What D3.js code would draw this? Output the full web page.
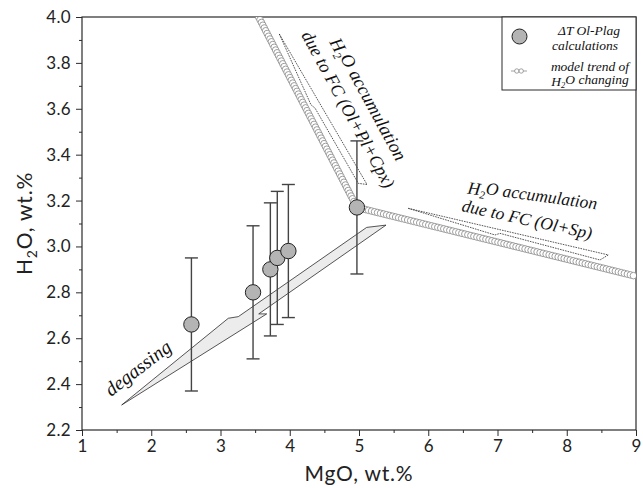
<!DOCTYPE html>
<html>
<head>
<meta charset="utf-8">
<script src="https://cdn.jsdelivr.net/npm/d3@7/dist/d3.min.js"></script>
<style>
  html, body { margin: 0; padding: 0; background: #fff; }
  svg { display: block; }
  .tick text { font-family: Lato, "Open Sans", sans-serif; }
</style>
</head>
<body>
<svg id="chart" width="643" height="488"></svg>
<script>
// ΔT Ol-Plag calculations: MgO vs H2O with uncertainty ranges
const mgo     = [2.58, 3.47, 3.72, 3.82, 3.98, 4.97];
const h2o     = [2.66, 2.80, 2.90, 2.95, 2.98, 3.17];
const h2oLow  = [2.37, 2.51, 2.61, 2.66, 2.69, 2.88];
const h2oHigh = [2.95, 3.09, 3.19, 3.24, 3.27, 3.46];

// Model trend of H2O changing (vertices of the trend)
const trendMgO = [3.55, 4.97, 9.0];
const trendH2O = [4.00, 3.17, 2.87];

// Outlined process arrows, as [MgO, H2O] vertices
const degassingShape = [[1.573, 2.309], [3.113, 2.687], [3.257, 2.694], [5.111, 3.083],
                        [5.390, 3.093], [3.552, 2.706], [3.667, 2.706]];
const fcPlagShape = [[3.849, 3.926], [4.307, 3.617], [4.365, 3.603], [4.990, 3.275], [5.116, 3.270]];
const fcSpShape = [[5.712, 3.166], [8.600, 2.963], [8.480, 2.941], [7.036, 3.057], [6.964, 3.050]];

// Axis ticks
const xTicks = [1, 2, 3, 4, 5, 6, 7, 8, 9];
const xMinor = [1.5, 2.5, 3.5, 4.5, 5.5, 6.5, 7.5, 8.5];
const yTicks = [2.2, 2.4, 2.6, 2.8, 3.0, 3.2, 3.4, 3.6, 3.8, 4.0];
const yMinor = [2.3, 2.5, 2.7, 2.9, 3.1, 3.3, 3.5, 3.7, 3.9];

const svg = d3.select("#chart");
const pL = 82, pR = 636, pT = 17, pB = 430;
const x = d3.scaleLinear().domain([1, 9]).range([pL, pR]);
const y = d3.scaleLinear().domain([2.2, 4.0]).range([pB, pT]);

const ink = "#2b2b2b";
const serif = "'Liberation Serif', 'Times New Roman', serif";

svg.append("defs").append("clipPath").attr("id", "plot")
  .append("rect").attr("x", pL).attr("y", pT)
  .attr("width", pR - pL).attr("height", pB - pT);

// Axes
const xAxis = svg.append("g").attr("transform", `translate(0,${pB})`)
  .call(d3.axisBottom(x).tickValues(xTicks).tickSize(6).tickPadding(4).tickFormat(d3.format("d")));
svg.append("g").attr("transform", `translate(0,${pB})`)
  .call(d3.axisBottom(x).tickValues(xMinor).tickSize(3).tickFormat(""));
const yAxis = svg.append("g").attr("transform", `translate(${pL},0)`)
  .call(d3.axisLeft(y).tickValues(yTicks).tickSize(6).tickPadding(5).tickFormat(d3.format(".1f")));
svg.append("g").attr("transform", `translate(${pL},0)`)
  .call(d3.axisLeft(y).tickValues(yMinor).tickSize(3).tickFormat(""));

svg.selectAll(".domain").remove();
svg.selectAll(".tick line").attr("stroke", ink).attr("stroke-width", 1);
xAxis.selectAll(".tick text").attr("font-size", 17).attr("fill", "#222").attr("letter-spacing", 0.3);
yAxis.selectAll(".tick text").attr("font-size", 17).attr("fill", "#222").attr("letter-spacing", 0.3);

// Frame
svg.append("rect").attr("x", pL).attr("y", pT)
  .attr("width", pR - pL).attr("height", pB - pT)
  .attr("fill", "none").attr("stroke", ink).attr("stroke-width", 1.2);

// Axis titles
svg.append("text").attr("x", (pL + pR) / 2).attr("y", 481)
  .attr("text-anchor", "middle").attr("font-family", "Lato, sans-serif")
  .attr("font-size", 21).attr("letter-spacing", 0.8).attr("fill", "#222")
  .text("MgO, wt.%");
const yt = svg.append("text")
  .attr("transform", `translate(32,${(pT + pB) / 2}) rotate(-90)`)
  .attr("text-anchor", "middle").attr("font-family", "Lato, sans-serif")
  .attr("font-size", 21).attr("letter-spacing", 0.8).attr("fill", "#222");
yt.append("tspan").text("H");
yt.append("tspan").attr("font-size", 14).attr("dy", 5).text("2");
yt.append("tspan").attr("dy", -5).text("O, wt.%");

const plot = svg.append("g").attr("clip-path", "url(#plot)");
const shapeLine = d3.line().x(d => x(d[0])).y(d => y(d[1]));

// Degassing arrow
plot.append("path").attr("d", shapeLine(degassingShape) + "Z")
  .attr("fill", "#ececec").attr("stroke", ink).attr("stroke-width", 0.8)
  .attr("stroke-linejoin", "miter");

// Fractional crystallization arrows (dotted outlines)
[fcPlagShape, fcSpShape].forEach(s => {
  plot.append("path").attr("d", shapeLine(s) + "Z")
    .attr("fill", "none").attr("stroke", ink).attr("stroke-width", 0.8)
    .attr("stroke-dasharray", "1.6,1");
});

// Model trend drawn as a chain of small open circles
const trendPts = trendMgO.map((m, i) => [m, trendH2O[i]]);
const guide = plot.append("path").attr("d", shapeLine(trendPts))
  .attr("fill", "none").attr("stroke", "none");
const node = guide.node();
const total = node.getTotalLength();
const samples = d3.range(0, total, 3.1).map(l => node.getPointAtLength(l));
plot.append("g").selectAll("circle").data(samples).join("circle")
  .attr("cx", p => p.x).attr("cy", p => p.y).attr("r", 3.3)
  .attr("fill", "#fff").attr("stroke", "#858585").attr("stroke-width", 0.8);

// Error bars
const bars = svg.append("g").attr("stroke", "#444").attr("stroke-width", 1.4);
mgo.forEach((m, i) => {
  bars.append("line").attr("x1", x(m)).attr("x2", x(m))
    .attr("y1", y(h2oLow[i])).attr("y2", y(h2oHigh[i]));
  [h2oLow[i], h2oHigh[i]].forEach(v => {
    bars.append("line").attr("x1", x(m) - 6.5).attr("x2", x(m) + 6.5)
      .attr("y1", y(v)).attr("y2", y(v));
  });
});

// Data points
svg.append("g").selectAll("circle").data(mgo).join("circle")
  .attr("cx", d => x(d)).attr("cy", (d, i) => y(h2o[i])).attr("r", 7.7)
  .attr("fill", "#b4b4b4").attr("stroke", "#222").attr("stroke-width", 1);

// Process labels
function h2oLabel(sel, rest) {
  sel.append("tspan").text("H");
  sel.append("tspan").attr("font-size", "0.62em").attr("dy", "0.28em").text("2");
  sel.append("tspan").attr("dy", "-0.28em").text(rest);
}
const lab = svg.append("g").attr("font-family", serif).attr("font-style", "italic").attr("fill", "#111");

h2oLabel(lab.append("text").attr("font-size", 18.5)
  .attr("transform", "translate(329,42) rotate(61.5)"), "O accumulation");
lab.append("text").attr("font-size", 18)
  .attr("transform", "translate(301,35) rotate(61.5)").text("due to FC (Ol+Pl+Cpx)");

h2oLabel(lab.append("text").attr("font-size", 17.5)
  .attr("transform", "translate(467,193.5) rotate(7.8)"), "O accumulation");
lab.append("text").attr("font-size", 17.5)
  .attr("transform", "translate(461,211) rotate(12.3)").text("due to FC (Ol+Sp)");

lab.append("text").attr("font-size", 19.5)
  .attr("transform", "translate(111,397) rotate(-37.5)").text("degassing");

// Legend
const lg = svg.append("g");
lg.append("rect").attr("x", 502).attr("y", pT).attr("width", pR - 502).attr("height", 90 - pT)
  .attr("fill", "#fff").attr("stroke", ink).attr("stroke-width", 1);
lg.append("circle").attr("cx", 519.5).attr("cy", 36.5).attr("r", 7.5)
  .attr("fill", "#b4b4b4").attr("stroke", "#222").attr("stroke-width", 1);
lg.append("line").attr("x1", 511).attr("x2", 527).attr("y1", 71).attr("y2", 71)
  .attr("stroke", "#8a8a8a").attr("stroke-width", 0.8);
[516.8, 521.2].forEach(cx => lg.append("circle").attr("cx", cx).attr("cy", 71).attr("r", 2.2)
  .attr("fill", "#fff").attr("stroke", "#8a8a8a").attr("stroke-width", 0.8));
const lt = lg.append("g").attr("font-family", serif).attr("font-style", "italic")
  .attr("font-size", 13.5).attr("fill", "#111").attr("text-anchor", "middle");
lt.append("text").attr("x", 589).attr("y", 35).text("ΔT Ol-Plag");
lt.append("text").attr("x", 585).attr("y", 49.5).text("calculations");
lt.append("text").attr("x", 590).attr("y", 70.5).text("model trend of");
h2oLabel(lt.append("text").attr("x", 590).attr("y", 85.5), "O changing");
</script>
</body>
</html>
